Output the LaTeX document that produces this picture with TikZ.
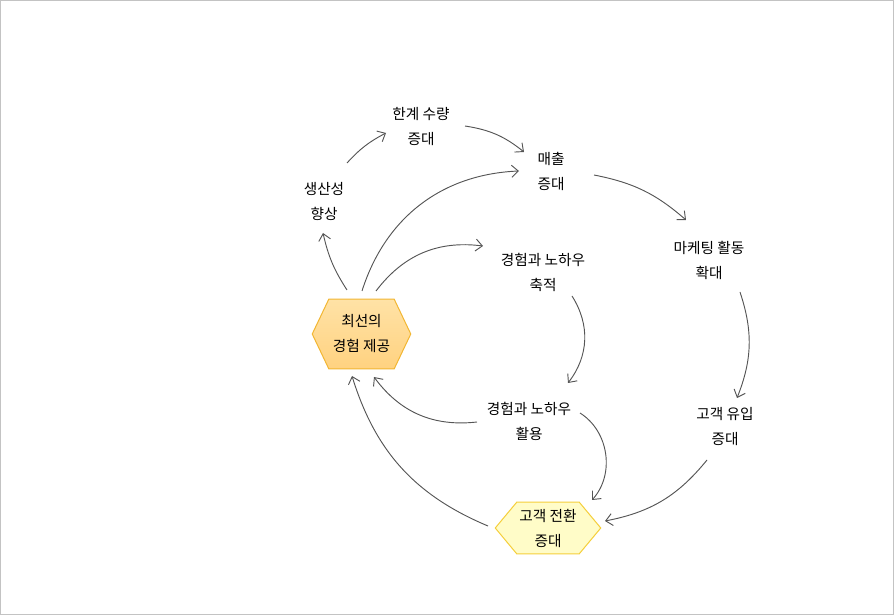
\documentclass[tikz,border=0pt]{standalone}
\usepackage{fontspec}
\newfontfamily\krfont{Noto Sans CJK KR}
\usetikzlibrary{arrows.meta,backgrounds}
\definecolor{linegray}{HTML}{555555}
\definecolor{framegray}{HTML}{C3C3C3}
\definecolor{besttop}{HTML}{FFE2A6}
\definecolor{bestbot}{HTML}{FFD280}
\definecolor{bestline}{HTML}{F2B632}
\definecolor{convfill}{HTML}{FFFCC8}
\definecolor{convline}{HTML}{F5CF3C}

\begin{document}
\begin{tikzpicture}[x=0.75pt,y=0.75pt,
  every node/.style={font=\krfont\fontsize{11}{18.75}\selectfont, align=center},
  link/.style={->, linegray, line width=0.7pt},
  >={Straight Barb[length=5pt,width=9pt]}]
\useasboundingbox (0,0) rectangle (894,615);
\draw[framegray, line width=0.75pt] (0.5,0.5) rectangle (893.5,614.5);

% steps of the loop
\node (prod) at (324,414) {생산성\\향상};
\node (limit) at (421,488) {한계 수량\\증대};
\node (sales) at (551,444) {매출\\증대};
\node (mkt) at (709,355) {마케팅 활동\\확대};
\node (inflow) at (725,188) {고객 유입\\증대};
\node (accum) at (543,343) {경험과 노하우\\축적};
\node (use) at (529,194) {경험과 노하우\\활용};
\node [minimum width=73.5pt, minimum height=51.75pt] (best) at (361.5,281) {최선의\\경험 제공};
\node [minimum width=78.75pt, minimum height=38.25pt] (conv) at (548,87) {고객 전환\\증대};

% hexagons behind the two key steps
\begin{scope}[on background layer]
\path[draw=bestline, top color=besttop, bottom color=bestbot, line width=0.75pt]
  (best.west) -- ([xshift=12.4pt]best.north west) -- ([xshift=-12.4pt]best.north east)
  -- (best.east) -- ([xshift=-12.4pt]best.south east) -- ([xshift=12.4pt]best.south west) -- cycle;
\path[draw=convline, fill=convfill, line width=0.75pt]
  (conv.west) -- ([xshift=16.1pt]conv.north west) -- ([xshift=-16.1pt]conv.north east)
  -- (conv.east) -- ([xshift=-16.1pt]conv.south east) -- ([xshift=16.1pt]conv.south west) -- cycle;
\end{scope}

\draw[link] ([shift={(23,38)}]prod.center) to[bend left=10] ([shift={(-35,-6)}]limit.center);
\draw[link] ([shift={(44,1)}]limit.center) to[bend left=15] ([shift={(-27,19)}]sales.center);
\draw[link] ([shift={(43,-4)}]sales.center) to[bend left=15] ([shift={(-23,40)}]mkt.center);
\draw[link] ([shift={(31,-32)}]mkt.center) to[bend left=20] ([shift={(12,29)}]inflow.center);
\draw[link] ([shift={(-18,-33)}]inflow.center) to[bend left=20] ([shift={(57,7)}]conv.center);
\draw[link] ([shift={(51,8)}]use.center) to[bend left=50] ([shift={(44,28)}]conv.center);
\draw[link] ([shift={(29,-24)}]accum.center) to[bend left=35] ([shift={(39,38)}]use.center);
\draw[link] ([shift={(-52,-1)}]use.center) to[bend left=30] ([shift={(12.5,-43)}]best.center);
\draw[link] ([shift={(-60,2)}]conv.center) to[bend left=25] ([shift={(-9.5,-42)}]best.center);
\draw[link] ([shift={(-14.5,44)}]best.center) to[bend left=10] ([shift={(-1,-32)}]prod.center);
\draw[link] ([shift={(0.5,43)}]best.center) to[bend left=35] ([shift={(-32,0)}]sales.center);
\draw[link] ([shift={(14.5,43)}]best.center) to[bend left=30] ([shift={(-60,26)}]accum.center);
\end{tikzpicture}
\end{document}
